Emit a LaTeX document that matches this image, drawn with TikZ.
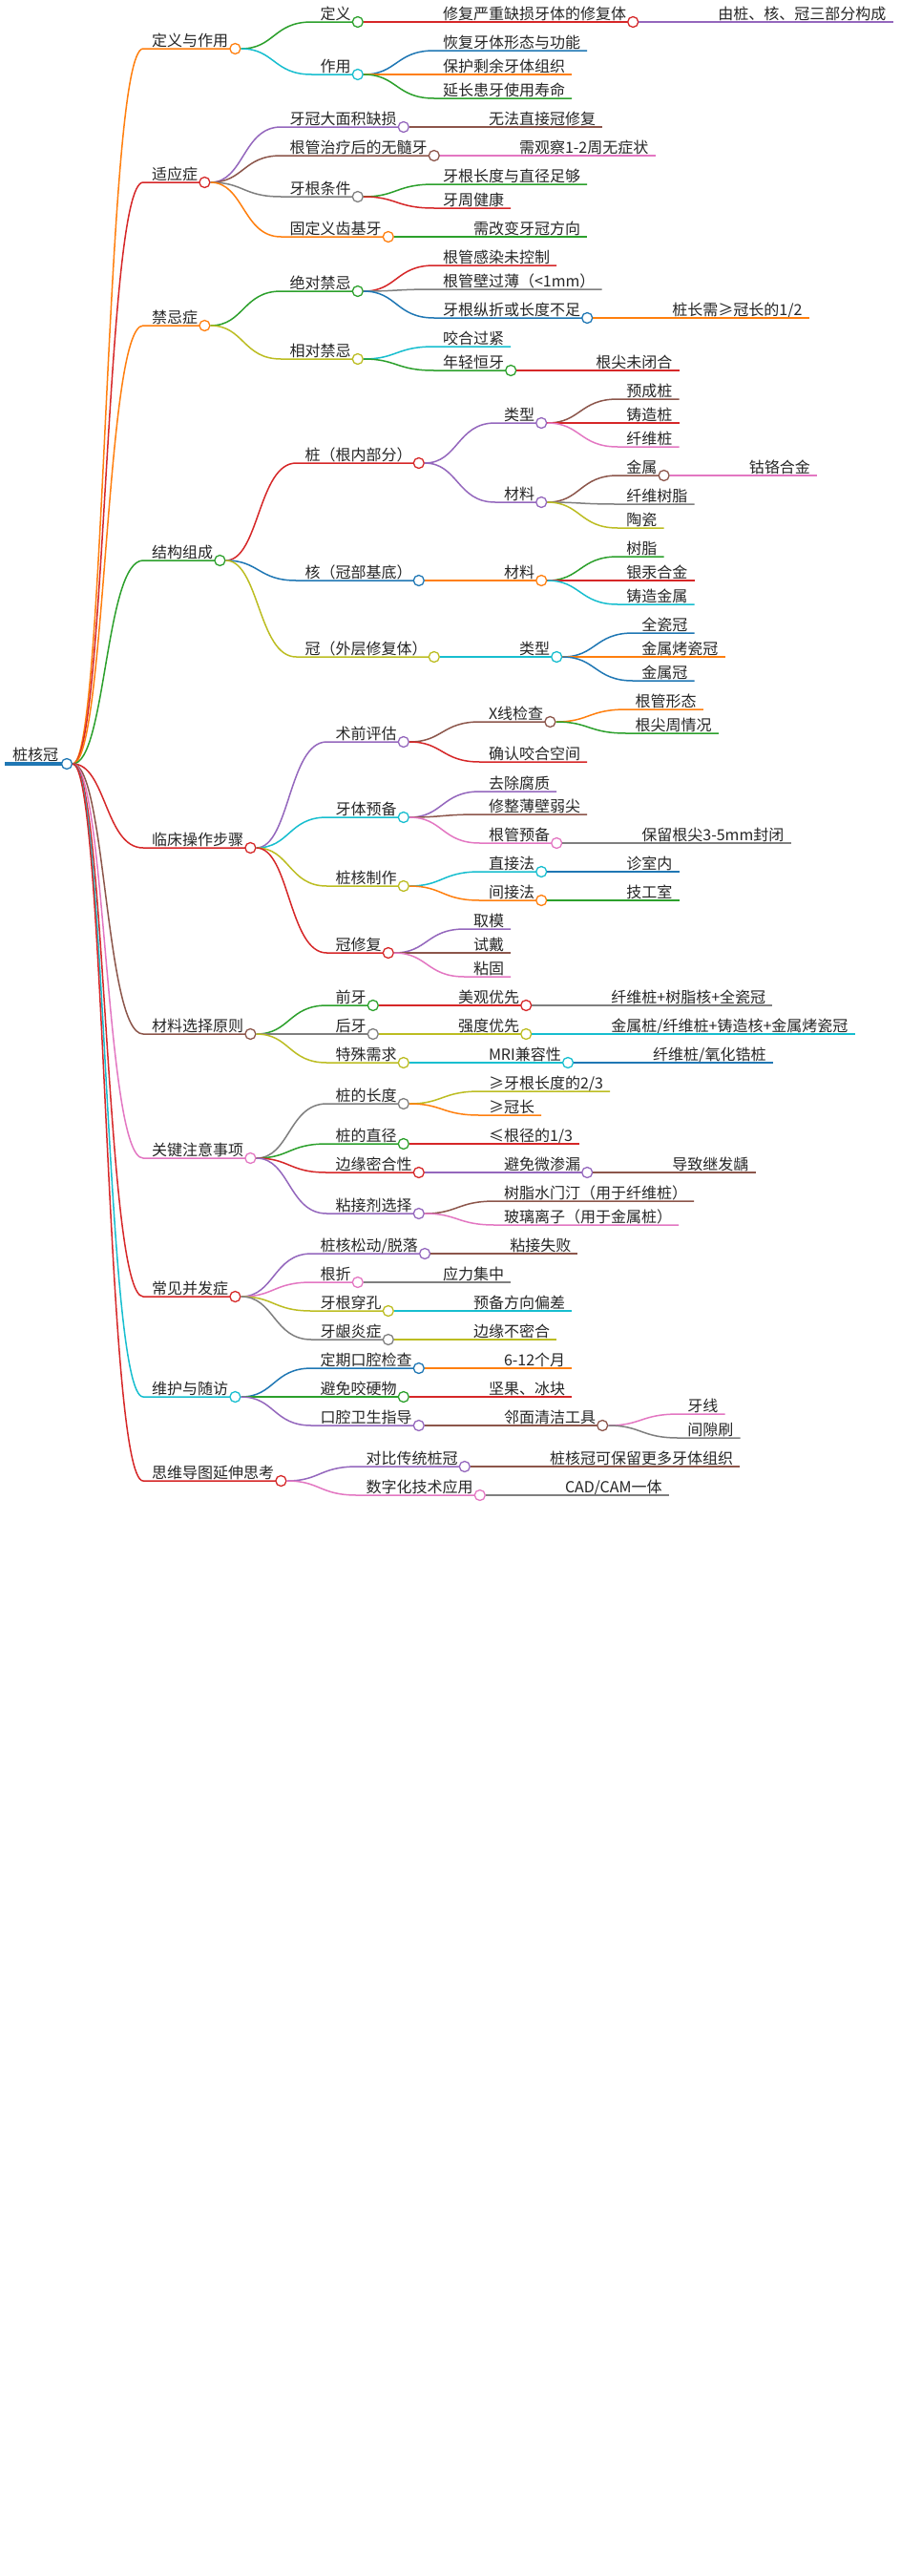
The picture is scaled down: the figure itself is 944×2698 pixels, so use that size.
\documentclass[tikz,border=0pt]{standalone}
\usepackage{fontspec}
\setmainfont{Noto Sans CJK SC}
\usetikzlibrary{calc}
\definecolor{cO}{HTML}{FF7F0E}\definecolor{cR}{HTML}{D62728}\definecolor{cG}{HTML}{2CA02C}
\definecolor{cC}{HTML}{17BECF}\definecolor{cB}{HTML}{1F77B4}\definecolor{cP}{HTML}{9467BD}
\definecolor{cN}{HTML}{8C564B}\definecolor{cK}{HTML}{E377C2}\definecolor{cY}{HTML}{7F7F7F}
\definecolor{cL}{HTML}{BCBD22}
\tikzset{txt/.style={inner sep=0pt,font=\fontsize{16}{18}\selectfont,text=black!85},
 edge/.style={line width=1.5pt},
 dot/.style={circle,minimum size=11pt,inner sep=0pt,fill=white,line width=1.3pt}}
\newcommand\mmbase[5]{%
  \coordinate (a#1) at (#2 |- 0,#3);
  \node[txt,anchor=base west] (t#1) at ([shift={(89pt,3pt)}]a#1) {#5};}
\newcommand\mmi[5]{\mmbase{#1}{#2}{#3}{#4}{#5}%
  \path (t#1.east |- a#1) ++(7pt,0) coordinate (e#1);
  \draw[edge,#4] (#2.east) .. controls ([xshift=35pt]#2.east) and ([xshift=40pt]a#1) .. ([xshift=80pt]a#1) -- (e#1);
  \node[dot,draw=#4] (#1) at (e#1) {};}
\newcommand\mml[5]{\mmbase{#1}{#2}{#3}{#4}{#5}%
  \path (t#1.east |- a#1) ++(7pt,0) coordinate (e#1);
  \draw[edge,#4] (#2.east) .. controls ([xshift=35pt]#2.east) and ([xshift=40pt]a#1) .. ([xshift=80pt]a#1) -- (e#1);}
\begin{document}
\begin{tikzpicture}[x=1pt,y=-1pt]
\fill[white] (0,0) rectangle (944,2698);
\useasboundingbox (0,0) rectangle (944,2698);
\coordinate (r0) at (5,800);
\draw[cB,line width=4pt] (r0) -- (70,800);
\node[txt,anchor=base west] (rt) at (13,796) {桩核冠};
\node[dot,draw=cB] (r) at (70,800) {};
% A
\mmi{A}{r}{51}{cO}{定义与作用}
\mmi{A1}{A}{23}{cG}{定义}
\mmi{A11}{A1}{23}{cR}{修复严重缺损牙体的修复体}
\mml{A111}{A11}{23}{cP}{由桩、核、冠三部分构成}
\mmi{A2}{A}{78}{cC}{作用}
\mml{A21}{A2}{53}{cB}{恢复牙体形态与功能}
\mml{A22}{A2}{78}{cO}{保护剩余牙体组织}
\mml{A23}{A2}{103}{cG}{延长患牙使用寿命}
% B
\mmi{B}{r}{191}{cR}{适应症}
\mmi{B1}{B}{133}{cP}{牙冠大面积缺损}
\mml{B11}{B1}{133}{cN}{无法直接冠修复}
\mmi{B2}{B}{163}{cN}{根管治疗后的无髓牙}
\mml{B21}{B2}{163}{cK}{需观察1-2周无症状}
\mmi{B3}{B}{206}{cY}{牙根条件}
\mml{B31}{B3}{193}{cG}{牙根长度与直径足够}
\mml{B32}{B3}{218}{cR}{牙周健康}
\mmi{B4}{B}{248}{cO}{固定义齿基牙}
\mml{B41}{B4}{248}{cG}{需改变牙冠方向}
% C
\mmi{C}{r}{341}{cO}{禁忌症}
\mmi{C1}{C}{305}{cG}{绝对禁忌}
\mml{C11}{C1}{278}{cR}{根管感染未控制}
\mml{C12}{C1}{303}{cY}{根管壁过薄（<1mm）}
\mmi{C13}{C1}{333}{cB}{牙根纵折或长度不足}
\mml{C131}{C13}{333}{cO}{桩长需≥冠长的1/2}
\mmi{C2}{C}{376}{cL}{相对禁忌}
\mml{C21}{C2}{363}{cC}{咬合过紧}
\mmi{C22}{C2}{388}{cG}{年轻恒牙}
\mml{C221}{C22}{388}{cR}{根尖未闭合}
% D
\mmi{D}{r}{587}{cG}{结构组成}
\mmi{D1}{D}{485}{cR}{桩（根内部分）}
\mmi{D11}{D1}{443}{cP}{类型}
\mml{D111}{D11}{418}{cN}{预成桩}
\mml{D112}{D11}{443}{cR}{铸造桩}
\mml{D113}{D11}{468}{cK}{纤维桩}
\mmi{D12}{D1}{526}{cP}{材料}
\mmi{D121}{D12}{498}{cN}{金属}
\mml{D1211}{D121}{498}{cK}{钴铬合金}
\mml{D122}{D12}{528}{cY}{纤维树脂}
\mml{D123}{D12}{553}{cL}{陶瓷}
\mmi{D2}{D}{608}{cB}{核（冠部基底）}
\mmi{D21}{D2}{608}{cO}{材料}
\mml{D211}{D21}{583}{cG}{树脂}
\mml{D212}{D21}{608}{cR}{银汞合金}
\mml{D213}{D21}{633}{cC}{铸造金属}
\mmi{D3}{D}{688}{cL}{冠（外层修复体）}
\mmi{D31}{D3}{688}{cC}{类型}
\mml{D311}{D31}{663}{cB}{全瓷冠}
\mml{D312}{D31}{688}{cO}{金属烤瓷冠}
\mml{D313}{D31}{713}{cB}{金属冠}
% E
\mmi{E}{r}{888}{cR}{临床操作步骤}
\mmi{E1}{E}{777}{cP}{术前评估}
\mmi{E11}{E1}{756}{cN}{X线检查}
\mml{E111}{E11}{743}{cO}{根管形态}
\mml{E112}{E11}{768}{cG}{根尖周情况}
\mml{E12}{E1}{798}{cR}{确认咬合空间}
\mmi{E2}{E}{856}{cC}{牙体预备}
\mml{E21}{E2}{829}{cP}{去除腐质}
\mml{E22}{E2}{853}{cN}{修整薄壁弱尖}
\mmi{E23}{E2}{883}{cK}{根管预备}
\mml{E231}{E23}{883}{cY}{保留根尖3-5mm封闭}
\mmi{E3}{E}{928}{cL}{桩核制作}
\mmi{E31}{E3}{913}{cC}{直接法}
\mml{E311}{E31}{913}{cB}{诊室内}
\mmi{E32}{E3}{943}{cO}{间接法}
\mml{E321}{E32}{943}{cG}{技工室}
\mmi{E4}{E}{998}{cR}{冠修复}
\mml{E41}{E4}{973}{cP}{取模}
\mml{E42}{E4}{998}{cN}{试戴}
\mml{E43}{E4}{1023}{cK}{粘固}
% F
\mmi{F}{r}{1083}{cN}{材料选择原则}
\mmi{F1}{F}{1053}{cG}{前牙}
\mmi{F11}{F1}{1053}{cR}{美观优先}
\mml{F111}{F11}{1053}{cY}{纤维桩+树脂核+全瓷冠}
\mmi{F2}{F}{1083}{cY}{后牙}
\mmi{F21}{F2}{1083}{cL}{强度优先}
\mml{F211}{F21}{1083}{cC}{金属桩/纤维桩+铸造核+金属烤瓷冠}
\mmi{F3}{F}{1113}{cL}{特殊需求}
\mmi{F31}{F3}{1113}{cC}{MRI兼容性}
\mml{F311}{F31}{1113}{cB}{纤维桩/氧化锆桩}
% G
\mmi{G}{r}{1213}{cK}{关键注意事项}
\mmi{G1}{G}{1156}{cY}{桩的长度}
\mml{G11}{G1}{1143}{cL}{≥牙根长度的2/3}
\mml{G12}{G1}{1168}{cO}{≥冠长}
\mmi{G2}{G}{1198}{cG}{桩的直径}
\mml{G21}{G2}{1198}{cR}{≤根径的1/3}
\mmi{G3}{G}{1228}{cR}{边缘密合性}
\mmi{G31}{G3}{1228}{cP}{避免微渗漏}
\mml{G311}{G31}{1228}{cN}{导致继发龋}
\mmi{G4}{G}{1271}{cP}{粘接剂选择}
\mml{G41}{G4}{1258}{cN}{树脂水门汀（用于纤维桩）}
\mml{G42}{G4}{1283}{cK}{玻璃离子（用于金属桩）}
% H
\mmi{H}{r}{1358}{cR}{常见并发症}
\mmi{H1}{H}{1313}{cP}{桩核松动/脱落}
\mml{H11}{H1}{1313}{cN}{粘接失败}
\mmi{H2}{H}{1343}{cK}{根折}
\mml{H21}{H2}{1343}{cY}{应力集中}
\mmi{H3}{H}{1373}{cL}{牙根穿孔}
\mml{H31}{H3}{1373}{cC}{预备方向偏差}
\mmi{H4}{H}{1403}{cY}{牙龈炎症}
\mml{H41}{H4}{1403}{cL}{边缘不密合}
% I
\mmi{I}{r}{1463}{cC}{维护与随访}
\mmi{I1}{I}{1433}{cB}{定期口腔检查}
\mml{I11}{I1}{1433}{cO}{6-12个月}
\mmi{I2}{I}{1463}{cG}{避免咬硬物}
\mml{I21}{I2}{1463}{cR}{坚果、冰块}
\mmi{I3}{I}{1493}{cP}{口腔卫生指导}
\mmi{I31}{I3}{1493}{cN}{邻面清洁工具}
\mml{I311}{I31}{1481}{cK}{牙线}
\mml{I312}{I31}{1506}{cY}{间隙刷}
% J
\mmi{J}{r}{1551}{cR}{思维导图延伸思考}
\mmi{J1}{J}{1536}{cP}{对比传统桩冠}
\mml{J11}{J1}{1536}{cN}{桩核冠可保留更多牙体组织}
\mmi{J2}{J}{1566}{cK}{数字化技术应用}
\mml{J21}{J2}{1566}{cY}{CAD/CAM一体}
\end{tikzpicture}
\end{document}
